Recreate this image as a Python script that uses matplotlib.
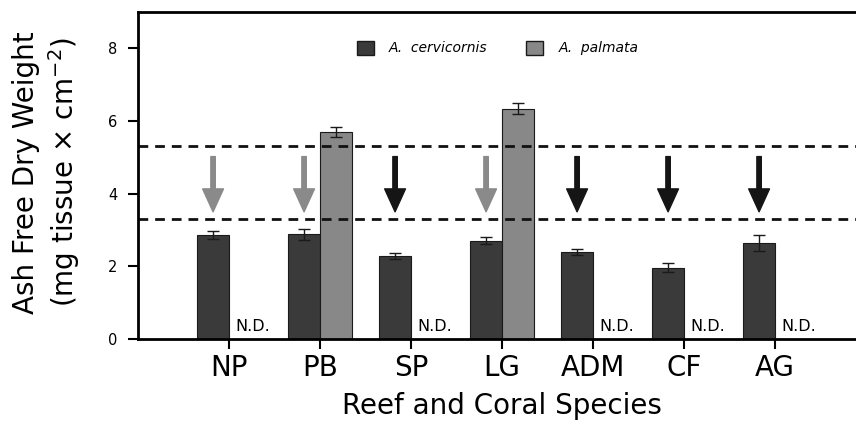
import numpy as np
import matplotlib.pyplot as plt
from matplotlib.patches import Patch

reefs = ['NP', 'PB', 'SP', 'LG', 'ADM', 'CF', 'AG']
cerv = [2.86, 2.88, 2.28, 2.71, 2.40, 1.96, 2.64]
cerv_err = [0.10, 0.15, 0.09, 0.09, 0.09, 0.13, 0.21]
palm = [np.nan, 5.69, np.nan, 6.34, np.nan, np.nan, np.nan]
palm_err = [0, 0.14, 0, 0.16, 0, 0, 0]
arrow_col = ['#8a8a8a', '#8a8a8a', '#151515', '#8a8a8a', '#151515', '#151515', '#151515']
thresholds = [5.32, 3.31]

fig = plt.figure(figsize=(8.56, 4.25), dpi=100)
ax = fig.add_axes([0.1612, 0.2024, 0.8505, 0.7694])

x = np.arange(len(reefs))
w = 0.35
ax.bar(x - w / 2, cerv, w, color='#3a3a3a', edgecolor='#1a1a1a', linewidth=0.8,
       yerr=cerv_err, error_kw=dict(ecolor='#1a1a1a', elinewidth=1, capsize=4, capthick=1))
ax.bar(x + w / 2, palm, w, color='#888888', edgecolor='#1a1a1a', linewidth=0.8,
       yerr=palm_err, error_kw=dict(ecolor='#1a1a1a', elinewidth=1, capsize=4, capthick=1))

for t in thresholds:
    ax.axhline(t, color='#111111', lw=2, ls=(0, (3.5, 2.5)))

for i in range(len(reefs)):
    ax.annotate('', xy=(x[i] - w / 2, 3.5), xytext=(x[i] - w / 2, 5.02),
                arrowprops=dict(arrowstyle='simple,head_length=1.65,head_width=1.5,tail_width=0.32',
                                color=arrow_col[i], shrinkA=0, shrinkB=0, mutation_scale=10))
    if np.isnan(palm[i]):
        ax.text(x[i] + 0.065, 0.15, 'N.D.', fontsize=11.5, ha='left', va='bottom')

handles = [Patch(facecolor='#3a3a3a', edgecolor='#1a1a1a'),
           Patch(facecolor='#888888', edgecolor='#1a1a1a')]
ax.legend(handles, ['A.  cervicornis', 'A.  palmata'], loc='center', bbox_to_anchor=(0.494, 0.89),
          ncol=2, frameon=False, prop={'style': 'italic', 'size': 10},
          handlelength=1.2, handleheight=1.2, columnspacing=2.8, handletextpad=1.1)

ax.set_xlim(-1, 7)
ax.set_ylim(0, 9)
ax.set_xticks(x)
ax.set_xticklabels(reefs, fontsize=20)
ax.set_yticks([0, 2, 4, 6, 8])
ax.tick_params(axis='y', labelsize=10.5, length=7, width=1.5, pad=8)
ax.tick_params(axis='x', length=7, width=1.5, pad=4)
ax.spines['right'].set_visible(False)
for s in ['left', 'top', 'bottom']:
    ax.spines[s].set_linewidth(2)
ax.set_xlabel('Reef and Coral Species', fontsize=20, labelpad=7)
ax.set_ylabel('Ash Free Dry Weight\n(mg tissue $\\times$ cm$^{-2}$)', fontsize=20, linespacing=1.2)
ax.yaxis.set_label_coords(-0.077, 0.51)

fig.savefig('out.png', dpi=100)
